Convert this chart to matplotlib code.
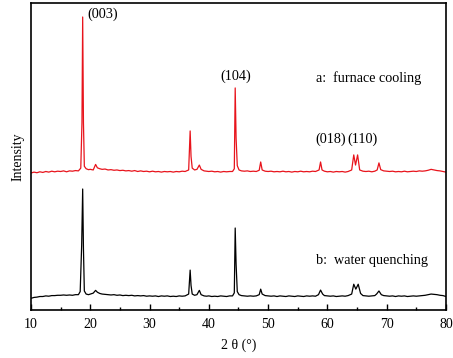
import matplotlib
matplotlib.use("Agg")
import matplotlib.pyplot as plt
from matplotlib.ticker import MultipleLocator

plt.rcParams['font.family'] = ['Liberation Serif', 'DejaVu Serif']

# 2theta positions (deg) and intensities (arb. units)
two_theta_a = [10.0, 10.5, 11.0, 11.5, 12.0, 12.5, 13.0, 13.5, 14.0, 14.5, 15.0, 15.5, 16.0, 16.5, 17.0, 17.5,
               18.0, 18.4, 18.6, 18.72, 18.85, 19.0, 19.3, 19.7, 20.0, 20.5, 20.9, 21.2, 21.6, 22.0, 22.5,
               23.0, 23.5, 24.0, 24.5, 25.0, 25.5, 26.0, 26.5, 27.0, 27.5, 28.0, 28.5, 29.0, 29.5, 30.0,
               30.5, 31.0, 31.5, 32.0, 32.5, 33.0, 33.5, 34.0, 34.5, 35.0, 35.5, 36.0, 36.6, 36.85, 37.0,
               37.2, 37.6, 38.0, 38.4, 38.7, 39.2, 39.6, 40.0, 40.5, 41.0, 41.5, 42.0, 42.5, 43.0, 43.5,
               44.0, 44.3, 44.45, 44.6, 44.8, 45.1, 45.5, 46.0, 46.5, 47.0, 47.5, 48.0, 48.5, 48.75, 49.0,
               49.5, 50.0, 50.5, 51.0, 51.5, 52.0, 52.5, 53.0, 53.5, 54.0, 54.5, 55.0, 55.5, 56.0, 56.5,
               57.0, 57.5, 58.0, 58.6, 58.85, 59.1, 59.5, 60.0, 60.5, 61.0, 61.5, 62.0, 62.5, 63.0, 63.5,
               64.1, 64.45, 64.75, 65.1, 65.45, 66.0, 66.5, 67.0, 67.5, 68.0, 68.4, 68.7, 69.0, 69.5, 70.0,
               70.5, 71.0, 71.5, 72.0, 72.5, 73.0, 73.5, 74.0, 74.5, 75.0, 75.5, 76.0, 76.5, 77.0, 77.5,
               78.0, 78.5, 79.0, 79.5, 80.0]
intensity_a = [446, 449, 447, 450, 448, 451, 449, 452, 450, 452, 451, 453, 450, 453, 452, 454,
               453, 462, 610, 954, 610, 468, 460, 457, 458, 456, 474, 463, 460, 458, 459,
               456, 457, 455, 456, 454, 455, 453, 454, 452, 454, 451, 453, 451, 452, 450,
               452, 450, 451, 449, 451, 450, 451, 449, 451, 450, 452, 451, 456, 583, 500,
               462, 456, 458, 472, 458, 453, 452, 451, 452, 450, 451, 449, 451, 450, 451,
               451, 460, 723, 560, 470, 456, 453, 452, 453, 451, 452, 451, 455, 482, 456,
               452, 451, 452, 450, 451, 450, 452, 450, 451, 449, 451, 450, 452, 450, 451,
               450, 452, 451, 456, 482, 456, 452, 450, 451, 449, 451, 450, 451, 449, 451,
               456, 505, 472, 505, 456, 452, 451, 452, 450, 452, 456, 479, 457, 453, 452,
               451, 452, 450, 451, 450, 452, 450, 451, 452, 451, 453, 452, 453, 455, 458,
               456, 454, 453, 451, 449]

two_theta_b = [10.0, 10.5, 11.0, 11.5, 12.0, 12.5, 13.0, 13.5, 14.0, 14.5, 15.0, 15.5, 16.0, 16.5, 17.0, 17.5,
               18.0, 18.3, 18.55, 18.72, 18.85, 19.0, 19.3, 19.7, 20.0, 20.5, 20.9, 21.2, 21.6, 22.0, 22.5,
               23.0, 23.5, 24.0, 24.5, 25.0, 25.5, 26.0, 26.5, 27.0, 27.5, 28.0, 28.5, 29.0, 29.5, 30.0,
               30.5, 31.0, 31.5, 32.0, 32.5, 33.0, 33.5, 34.0, 34.5, 35.0, 35.5, 36.0, 36.6, 36.85, 37.0,
               37.2, 37.6, 38.0, 38.4, 38.7, 39.2, 39.6, 40.0, 40.5, 41.0, 41.5, 42.0, 42.5, 43.0, 43.5,
               44.0, 44.3, 44.45, 44.6, 44.8, 45.1, 45.5, 46.0, 46.5, 47.0, 47.5, 48.0, 48.5, 48.75, 49.0,
               49.5, 50.0, 50.5, 51.0, 51.5, 52.0, 52.5, 53.0, 53.5, 54.0, 54.5, 55.0, 55.5, 56.0, 56.5,
               57.0, 57.5, 58.0, 58.5, 58.85, 59.2, 59.5, 60.0, 60.5, 61.0, 61.5, 62.0, 62.5, 63.0, 63.5,
               64.1, 64.45, 64.8, 65.2, 65.6, 66.0, 66.5, 67.0, 67.5, 68.0, 68.3, 68.7, 69.1, 69.5, 70.0,
               70.5, 71.0, 71.5, 72.0, 72.5, 73.0, 73.5, 74.0, 74.5, 75.0, 75.5, 76.0, 76.5, 77.0, 77.5,
               78.0, 78.5, 79.0, 79.5, 80.0]
intensity_b = [38, 41, 42, 44, 44, 46, 45, 47, 47, 48, 48, 49, 48, 49, 48, 50,
               50, 60, 210, 394, 200, 62, 52, 50, 52, 55, 64, 58, 54, 52, 51,
               50, 49, 50, 48, 49, 47, 48, 47, 48, 46, 47, 46, 47, 45, 46,
               45, 46, 44, 46, 45, 46, 44, 45, 44, 46, 45, 46, 52, 130, 80,
               52, 48, 50, 64, 50, 46, 45, 46, 44, 45, 44, 46, 45, 44, 46,
               46, 56, 267, 150, 60, 50, 47, 46, 45, 46, 45, 46, 50, 68, 52,
               47, 46, 45, 46, 44, 46, 45, 44, 46, 45, 44, 46, 45, 44, 46,
               45, 46, 45, 50, 65, 52, 47, 46, 45, 46, 44, 45, 46, 45, 47,
               52, 84, 68, 84, 54, 47, 46, 45, 46, 47, 52, 62, 50, 47, 46,
               45, 46, 44, 46, 45, 46, 44, 45, 46, 45, 46, 47, 48, 50, 52,
               51, 50, 48, 47, 44]

peak_labels = ["(003)", "(104)", "(018)", "(110)"]
sample_labels = ["a:  furnace cooling", "b:  water quenching"]
x_ticks = [10, 20, 30, 40, 50, 60, 70, 80]

fig = plt.figure(figsize=(4.53, 3.58), dpi=100)
ax = fig.add_axes([0.0684, 0.134, 0.916, 0.858])

ax.plot(two_theta_a, intensity_a, color='#e8141c', lw=0.9)
ax.plot(two_theta_b, intensity_b, color='black', lw=0.9)

ax.set_xlim(10, 80)
ax.set_ylim(0, 1000)
ax.set_xticks(x_ticks)
ax.xaxis.set_minor_locator(MultipleLocator(5))
ax.set_yticks([])
ax.tick_params(axis='x', which='major', direction='in', length=4, width=1, labelsize=10, pad=6)
ax.tick_params(axis='x', which='minor', direction='in', length=2.5, width=1)
for s in ax.spines.values():
    s.set_linewidth(1.2)

ax.set_xlabel("2 θ (°)", fontsize=10, labelpad=5)
ax.set_ylabel("Intensity", fontsize=10, labelpad=5)

fs = 10.2
ax.text(19.5, 962, peak_labels[0], fontsize=fs, ha='left', va='center')
ax.text(44.6, 760, peak_labels[1], fontsize=fs, ha='center', va='center')
ax.text(60.6, 555, peak_labels[2], fontsize=fs, ha='center', va='center')
ax.text(66.0, 555, peak_labels[3], fontsize=fs, ha='center', va='center')
ax.text(58.1, 755, sample_labels[0], fontsize=fs, ha='left', va='center')
ax.text(58.1, 162, sample_labels[1], fontsize=fs, ha='left', va='center')

fig.savefig("out.png", dpi=100)
